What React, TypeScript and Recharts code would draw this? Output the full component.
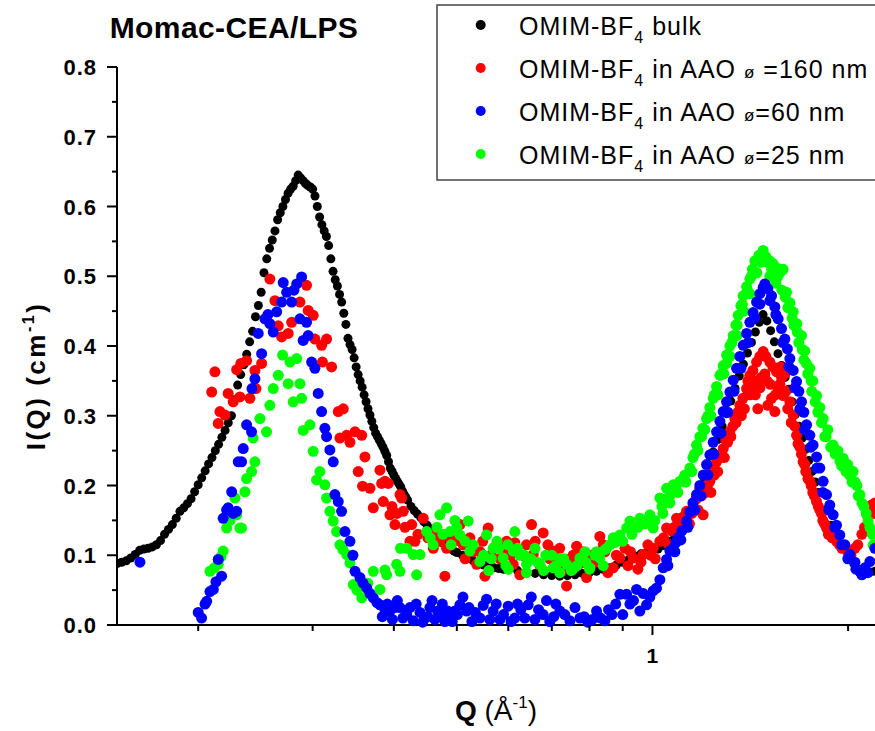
import { ScatterChart, Scatter, XAxis, YAxis } from "recharts";

// Q (1/Å) vs I(Q) (1/cm)
const BULK: [number, number][] = [
  [0.15, 0.088], [0.1525, 0.09], [0.155, 0.092], [0.1575, 0.096], [0.16, 0.101], [0.1625, 0.107],
  [0.165, 0.109], [0.1675, 0.11], [0.17, 0.112], [0.1725, 0.115], [0.175, 0.121], [0.1775, 0.13],
  [0.18, 0.137], [0.1825, 0.144], [0.185, 0.153], [0.1875, 0.163], [0.19, 0.168], [0.1925, 0.174],
  [0.195, 0.181], [0.1975, 0.191], [0.2, 0.201], [0.2025, 0.211], [0.205, 0.221], [0.2075, 0.231],
  [0.21, 0.24], [0.2125, 0.25], [0.215, 0.259], [0.2175, 0.269], [0.22, 0.279], [0.2225, 0.29],
  [0.225, 0.3], [0.2275, 0.323], [0.23, 0.344], [0.2325, 0.359], [0.235, 0.373], [0.2375, 0.388],
  [0.24, 0.406], [0.2425, 0.421], [0.245, 0.442], [0.2475, 0.458], [0.25, 0.477], [0.2525, 0.505],
  [0.255, 0.525], [0.2575, 0.54], [0.26, 0.552], [0.2625, 0.565], [0.265, 0.581], [0.2675, 0.591],
  [0.27, 0.6], [0.2725, 0.61], [0.275, 0.619], [0.2775, 0.625], [0.28, 0.629], [0.2825, 0.637],
  [0.285, 0.645], [0.2875, 0.641], [0.29, 0.637], [0.2925, 0.633], [0.295, 0.63], [0.2975, 0.628],
  [0.3, 0.625], [0.3025, 0.615], [0.305, 0.6], [0.3075, 0.585], [0.31, 0.574], [0.3125, 0.565],
  [0.315, 0.557], [0.3175, 0.544], [0.32, 0.525], [0.3225, 0.507], [0.325, 0.495], [0.3275, 0.486],
  [0.33, 0.474], [0.3325, 0.463], [0.335, 0.447], [0.3375, 0.431], [0.34, 0.411], [0.3425, 0.402],
  [0.345, 0.395], [0.3475, 0.383], [0.35, 0.37], [0.3525, 0.359], [0.355, 0.35], [0.3575, 0.341],
  [0.36, 0.33], [0.3625, 0.32], [0.365, 0.31], [0.3675, 0.301], [0.37, 0.292], [0.3725, 0.283],
  [0.375, 0.275], [0.3775, 0.27], [0.38, 0.265], [0.3825, 0.26], [0.385, 0.255], [0.3875, 0.249],
  [0.39, 0.243], [0.3925, 0.234], [0.395, 0.225], [0.3975, 0.22], [0.4, 0.215], [0.4025, 0.21],
  [0.405, 0.206], [0.4075, 0.202], [0.41, 0.198], [0.4125, 0.192], [0.415, 0.187], [0.4175, 0.183],
  [0.42, 0.179], [0.425, 0.17], [0.43, 0.164], [0.435, 0.159], [0.44, 0.154], [0.445, 0.148],
  [0.45, 0.143], [0.455, 0.138], [0.46, 0.133], [0.465, 0.127], [0.47, 0.121], [0.475, 0.118],
  [0.48, 0.115], [0.485, 0.112], [0.49, 0.109], [0.495, 0.106], [0.5, 0.104], [0.51, 0.1],
  [0.52, 0.096], [0.53, 0.092], [0.54, 0.088], [0.55, 0.086], [0.56, 0.084], [0.57, 0.082],
  [0.58, 0.081], [0.59, 0.08], [0.6, 0.079], [0.62, 0.078], [0.64, 0.076], [0.66, 0.074],
  [0.68, 0.072], [0.7, 0.071], [0.72, 0.07], [0.74, 0.071], [0.76, 0.072], [0.78, 0.074],
  [0.8, 0.075], [0.82, 0.077], [0.84, 0.08], [0.86, 0.082], [0.88, 0.086], [0.9, 0.09],
  [0.92, 0.094], [0.94, 0.099], [0.96, 0.102], [0.98, 0.104], [1.0, 0.106], [1.02, 0.109],
  [1.04, 0.114], [1.06, 0.12], [1.08, 0.13], [1.1, 0.14], [1.12, 0.15], [1.14, 0.163],
  [1.16, 0.178], [1.18, 0.195], [1.2, 0.212], [1.22, 0.23], [1.24, 0.248], [1.26, 0.266],
  [1.28, 0.285], [1.3, 0.303], [1.32, 0.321], [1.34, 0.339], [1.36, 0.357], [1.38, 0.374],
  [1.4, 0.39], [1.42, 0.405], [1.44, 0.42], [1.46, 0.434], [1.48, 0.445], [1.5, 0.436],
  [1.52, 0.422], [1.54, 0.406], [1.56, 0.389], [1.58, 0.372], [1.6, 0.355], [1.62, 0.338],
  [1.64, 0.32], [1.66, 0.302], [1.68, 0.285], [1.7, 0.268], [1.72, 0.252], [1.74, 0.236],
  [1.76, 0.22], [1.78, 0.205], [1.8, 0.19], [1.84, 0.165], [1.88, 0.143], [1.92, 0.125],
  [1.96, 0.11], [2.0, 0.098], [2.04, 0.088], [2.08, 0.08], [2.12, 0.077], [2.16, 0.076],
  [2.2, 0.077],
];

const AAO_160: [number, number][] = [
  [0.2098, 0.334], [0.2122, 0.363], [0.2147, 0.289], [0.216, 0.306], [0.2199, 0.301], [0.2224, 0.332],
  [0.2264, 0.32], [0.2292, 0.366], [0.2318, 0.327], [0.2326, 0.375], [0.2374, 0.379], [0.2402, 0.325],
  [0.2445, 0.365], [0.2454, 0.339], [0.2504, 0.375], [0.2578, 0.496], [0.2625, 0.465], [0.2656, 0.429],
  [0.2688, 0.413], [0.2751, 0.418], [0.2785, 0.434], [0.2868, 0.463], [0.2936, 0.487], [0.2953, 0.451],
  [0.3006, 0.444], [0.3024, 0.41], [0.3097, 0.401], [0.3106, 0.377], [0.3152, 0.41], [0.3208, 0.37],
  [0.3285, 0.306], [0.3304, 0.268], [0.3344, 0.31], [0.3384, 0.272], [0.3424, 0.262], [0.3486, 0.277],
  [0.3526, 0.22], [0.357, 0.272], [0.358, 0.199], [0.3611, 0.241], [0.3676, 0.196], [0.3719, 0.168],
  [0.3808, 0.222], [0.3831, 0.203], [0.3853, 0.177], [0.3876, 0.206], [0.3922, 0.203], [0.3945, 0.158],
  [0.3973, 0.17], [0.4016, 0.144], [0.4045, 0.16], [0.4088, 0.187], [0.4112, 0.182], [0.4136, 0.163],
  [0.4161, 0.14], [0.4235, 0.12], [0.4261, 0.144], [0.4311, 0.12], [0.4357, 0.13], [0.4439, 0.153],
  [0.4512, 0.125], [0.4624, 0.13], [0.4709, 0.12], [0.4793, 0.07], [0.4822, 0.11], [0.4879, 0.125],
  [0.5055, 0.144], [0.5115, 0.115], [0.5237, 0.125], [0.5363, 0.087], [0.5426, 0.105], [0.5523, 0.07],
  [0.5587, 0.139], [0.5721, 0.112], [0.5824, 0.095], [0.5963, 0.12], [0.6105, 0.087], [0.6141, 0.118],
  [0.6251, 0.072], [0.6363, 0.098], [0.6516, 0.144], [0.6554, 0.101], [0.6712, 0.085], [0.679, 0.132],
  [0.6904, 0.115], [0.7035, 0.106], [0.7077, 0.092], [0.7248, 0.077], [0.7377, 0.056], [0.7464, 0.095],
  [0.7643, 0.113], [0.7733, 0.088], [0.7918, 0.068], [0.8069, 0.1], [0.83, 0.127], [0.8448, 0.105],
  [0.8539, 0.075], [0.87, 0.082], [0.8909, 0.096], [0.9073, 0.11], [0.917, 0.085], [0.9339, 0.096],
  [0.9496, 0.08], [0.9676, 0.101], [0.9838, 0.115], [1.0025, 0.11], [1.0266, 0.12], [1.0512, 0.139],
  [1.0711, 0.135], [1.089, 0.153], [1.1057, 0.145], [1.1284, 0.163], [1.1498, 0.16], [1.1662, 0.18],
  [1.1828, 0.196], [1.1968, 0.158], [1.2083, 0.19], [1.2256, 0.206], [1.2388, 0.22], [1.255, 0.234],
  [1.2699, 0.24], [1.2849, 0.253], [1.297, 0.265], [1.3156, 0.277], [1.3298, 0.285], [1.3392, 0.296],
  [1.3535, 0.305], [1.3631, 0.315], [1.3777, 0.325], [1.3958, 0.339], [1.4023, 0.35], [1.412, 0.358],
  [1.4125, 0.33], [1.4272, 0.365], [1.4373, 0.35], [1.4461, 0.377], [1.4527, 0.31], [1.4631, 0.385],
  [1.4636, 0.34], [1.4803, 0.392], [1.4892, 0.36], [1.4945, 0.385], [1.5051, 0.315], [1.5157, 0.377],
  [1.5184, 0.345], [1.532, 0.37], [1.5428, 0.306], [1.5455, 0.33], [1.5521, 0.363], [1.5704, 0.345],
  [1.5732, 0.37], [1.5889, 0.329], [1.5985, 0.36], [1.6041, 0.335], [1.6271, 0.32], [1.6463, 0.301],
  [1.6661, 0.272], [1.6857, 0.255], [1.7053, 0.234], [1.7216, 0.22], [1.7466, 0.206], [1.765, 0.19],
  [1.7885, 0.177], [1.8093, 0.165], [1.8287, 0.15], [1.8528, 0.139], [1.8744, 0.13], [1.9196, 0.12],
  [1.9558, 0.11], [1.9981, 0.105], [2.0482, 0.11], [2.1, 0.13], [2.1455, 0.155], [2.1735, 0.172],
  [2.1991, 0.175],
  // second pass through the noisy band
  [0.46, 0.11], [0.495, 0.12], [0.515, 0.095], [0.53, 0.105], [0.548, 0.12], [0.565, 0.1],
  [0.59, 0.11], [0.605, 0.1], [0.64, 0.115], [0.66, 0.12], [0.695, 0.095], [0.72, 0.11],
  [0.755, 0.1], [0.78, 0.105], [0.815, 0.09], [0.84, 0.115], [0.88, 0.1], [0.925, 0.105],
  [0.96, 0.09], [0.995, 0.1], [1.01, 0.095], [1.04, 0.125], [1.06, 0.115], [1.08, 0.14],
  [1.1, 0.13], [1.115, 0.155], [1.14, 0.145], [1.155, 0.17], [1.175, 0.165], [1.19, 0.185],
  [1.215, 0.2], [1.23, 0.19], [1.245, 0.215], [1.26, 0.22], [1.275, 0.245], [1.29, 0.24],
  [1.305, 0.262], [1.32, 0.27], [1.345, 0.29], [1.37, 0.3], [1.385, 0.31], [1.42, 0.34],
  [1.44, 0.33], [1.47, 0.355], [1.5, 0.35], [1.525, 0.325], [1.56, 0.34], [1.58, 0.355],
  [1.615, 0.31], [1.635, 0.29], [1.655, 0.285], [1.675, 0.26], [1.695, 0.245], [1.715, 0.23],
  [1.735, 0.21], [1.755, 0.2], [1.775, 0.185], [1.8, 0.17], [1.82, 0.16], [1.84, 0.145],
  [1.865, 0.13], [1.89, 0.125], [1.94, 0.115], [1.975, 0.11], [2.02, 0.1], [2.07, 0.115],
  [2.12, 0.14], [2.16, 0.165], [2.19, 0.16],
];

const AAO_25: [number, number][] = [
  [0.2085, 0.077], [0.2118, 0.082], [0.2147, 0.087], [0.2168, 0.098], [0.2185, 0.106], [0.2212, 0.139],
  [0.2239, 0.15], [0.2278, 0.182], [0.2292, 0.158], [0.2318, 0.139], [0.2332, 0.139], [0.236, 0.191],
  [0.2374, 0.21], [0.2416, 0.22], [0.243, 0.268], [0.2445, 0.234], [0.2489, 0.296], [0.2548, 0.277],
  [0.2578, 0.315], [0.2609, 0.339], [0.2656, 0.358], [0.2697, 0.387], [0.2751, 0.346], [0.2768, 0.377],
  [0.28, 0.32], [0.2835, 0.382], [0.2868, 0.346], [0.2885, 0.325], [0.2901, 0.279], [0.2971, 0.287],
  [0.3006, 0.249], [0.3042, 0.208], [0.3078, 0.22], [0.3133, 0.201], [0.3152, 0.182], [0.3189, 0.163],
  [0.3227, 0.149], [0.3266, 0.134], [0.3304, 0.115], [0.334, 0.108], [0.3384, 0.101], [0.3424, 0.089],
  [0.3464, 0.058], [0.351, 0.05], [0.357, 0.039], [0.3647, 0.06], [0.3719, 0.077], [0.3808, 0.051],
  [0.3876, 0.079], [0.3899, 0.072], [0.404, 0.087], [0.4088, 0.077], [0.4095, 0.11], [0.4186, 0.11],
  [0.4285, 0.101], [0.4337, 0.072], [0.4388, 0.101], [0.4493, 0.134], [0.4598, 0.115], [0.4709, 0.158],
  [0.4822, 0.168], [0.4879, 0.134], [0.4966, 0.15], [0.5055, 0.129], [0.5206, 0.149], [0.5237, 0.106],
  [0.5426, 0.091], [0.5556, 0.129], [0.5687, 0.11], [0.5765, 0.12], [0.5892, 0.096], [0.5989, 0.115],
  [0.6105, 0.106], [0.6141, 0.134], [0.6251, 0.1], [0.6401, 0.087], [0.6594, 0.11], [0.6712, 0.087],
  [0.6852, 0.1], [0.7035, 0.082], [0.7204, 0.095], [0.7377, 0.087], [0.7543, 0.08], [0.7733, 0.096],
  [0.7874, 0.105], [0.8012, 0.082], [0.8156, 0.1], [0.83, 0.096], [0.8448, 0.108], [0.8599, 0.115],
  [0.8753, 0.118], [0.8909, 0.129], [0.9125, 0.139], [0.9232, 0.149], [0.9399, 0.14], [0.9563, 0.153],
  [0.9734, 0.145], [0.9908, 0.158], [1.0025, 0.139], [1.0085, 0.15], [1.0266, 0.182], [1.0339, 0.17],
  [1.0376, 0.16], [1.0512, 0.196], [1.0636, 0.185], [1.0636, 0.175], [1.0761, 0.201], [1.0863, 0.195],
  [1.094, 0.19], [1.102, 0.206], [1.1217, 0.215], [1.1256, 0.205], [1.1417, 0.225], [1.1498, 0.22],
  [1.154, 0.24], [1.1689, 0.258], [1.1745, 0.25], [1.1828, 0.27], [1.1955, 0.282], [1.204, 0.28],
  [1.2113, 0.296], [1.2256, 0.312], [1.23, 0.3], [1.2401, 0.325], [1.255, 0.342], [1.2605, 0.33],
  [1.2699, 0.358], [1.2849, 0.372], [1.288, 0.36], [1.3002, 0.387], [1.3156, 0.4], [1.3156, 0.385],
  [1.3312, 0.415], [1.3438, 0.43], [1.3486, 0.415], [1.3547, 0.444], [1.368, 0.458], [1.379, 0.472],
  [1.3823, 0.45], [1.3958, 0.485], [1.412, 0.496], [1.412, 0.475], [1.4247, 0.51], [1.4373, 0.522],
  [1.4476, 0.505], [1.4578, 0.53], [1.4803, 0.537], [1.4945, 0.528], [1.5051, 0.52], [1.5157, 0.522],
  [1.5157, 0.5], [1.5336, 0.518], [1.5483, 0.49], [1.5538, 0.512], [1.5704, 0.505], [1.5815, 0.48],
  [1.5889, 0.51], [1.6081, 0.477], [1.6157, 0.455], [1.6271, 0.462], [1.6463, 0.449], [1.6503, 0.43],
  [1.668, 0.432], [1.6799, 0.405], [1.6959, 0.415], [1.7098, 0.38], [1.7155, 0.393], [1.7338, 0.36],
  [1.7466, 0.368], [1.7585, 0.335], [1.765, 0.35], [1.7885, 0.329], [1.7967, 0.305], [1.8093, 0.312],
  [1.8307, 0.296], [1.8417, 0.27], [1.8614, 0.28], [1.8804, 0.255], [1.8967, 0.258], [1.9286, 0.25],
  [1.9423, 0.235], [1.9653, 0.239], [1.985, 0.22], [1.9981, 0.23], [2.028, 0.205], [2.0363, 0.22],
  [2.0634, 0.2], [2.0731, 0.185], [2.0851, 0.187], [2.1149, 0.17], [2.1323, 0.16], [2.1471, 0.149],
  [2.1782, 0.13], [2.1855, 0.115],
  // second pass through the noisy band
  [0.455, 0.125], [0.466, 0.14], [0.476, 0.13], [0.49, 0.115], [0.5, 0.14], [0.515, 0.12],
  [0.53, 0.115], [0.55, 0.1], [0.565, 0.095], [0.58, 0.11], [0.595, 0.085], [0.62, 0.11],
  [0.635, 0.1], [0.65, 0.095], [0.665, 0.09], [0.7, 0.1], [0.71, 0.085], [0.73, 0.095],
  [0.765, 0.085], [0.79, 0.09], [0.82, 0.105], [0.85, 0.11], [0.87, 0.125], [0.9, 0.12],
  [0.93, 0.13], [0.95, 0.14], [0.98, 0.15], [1.045, 0.18], [1.07, 0.19], [1.115, 0.21],
  [1.16, 0.245], [1.19, 0.27], [1.218, 0.3], [1.245, 0.33], [1.275, 0.36], [1.3, 0.375],
  [1.325, 0.405], [1.35, 0.43], [1.375, 0.46], [1.4, 0.48], [1.42, 0.5], [1.47, 0.52],
  [1.525, 0.51], [1.56, 0.5], [1.6, 0.47], [1.64, 0.44], [1.67, 0.42], [1.7, 0.395],
  [1.725, 0.375], [1.755, 0.35], [1.78, 0.32], [1.82, 0.29], [1.85, 0.27], [1.91, 0.245],
  [1.955, 0.228], [2.01, 0.215], [2.05, 0.205], [2.1, 0.175], [2.16, 0.14],
  [0.56, 0.078], [0.6, 0.08], [0.64, 0.075], [0.68, 0.078], [0.72, 0.075], [0.75, 0.078],
  [0.8, 0.08], [0.84, 0.085],
];

const AAO_60: [number, number][] = [
  [0.1627, 0.09], [0.2, 0.018], [0.2024, 0.01], [0.2049, 0.03], [0.2061, 0.034], [0.2085, 0.048],
  [0.211, 0.051], [0.213, 0.062], [0.2147, 0.094], [0.2173, 0.07], [0.2185, 0.153], [0.2212, 0.165],
  [0.2224, 0.168], [0.2252, 0.191], [0.2264, 0.16], [0.2292, 0.163], [0.2305, 0.234], [0.2332, 0.234],
  [0.2346, 0.253], [0.2374, 0.287], [0.2416, 0.277], [0.242, 0.339], [0.2445, 0.353], [0.2474, 0.418],
  [0.2504, 0.389], [0.2533, 0.439], [0.256, 0.445], [0.2578, 0.432], [0.2609, 0.42], [0.2641, 0.449],
  [0.2688, 0.463], [0.2703, 0.491], [0.2736, 0.477], [0.2785, 0.463], [0.2808, 0.48], [0.2835, 0.489],
  [0.2868, 0.439], [0.2885, 0.499], [0.2901, 0.408], [0.2936, 0.434], [0.2953, 0.415], [0.2989, 0.377],
  [0.3024, 0.368], [0.306, 0.332], [0.3097, 0.306], [0.3133, 0.282], [0.3152, 0.27], [0.3189, 0.251],
  [0.3227, 0.234], [0.3246, 0.187], [0.3285, 0.177], [0.3324, 0.163], [0.3364, 0.134], [0.3424, 0.12],
  [0.346, 0.1], [0.3486, 0.077], [0.3548, 0.068], [0.3586, 0.06], [0.3634, 0.053], [0.3676, 0.045],
  [0.3719, 0.039], [0.3768, 0.032], [0.3808, 0.029], [0.3876, 0.022], [0.3945, 0.02], [0.4016, 0.025],
  [0.4088, 0.025], [0.4186, 0.015], [0.4235, 0.025], [0.4285, 0.006], [0.4388, 0.018], [0.4469, 0.01],
  [0.4545, 0.025], [0.4626, 0.008], [0.4709, 0.015], [0.4793, 0.005], [0.4879, 0.012], [0.4966, 0.02],
  [0.5055, 0.029], [0.5176, 0.02], [0.5275, 0.005], [0.5426, 0.01], [0.5556, 0.037], [0.5687, 0.02],
  [0.5824, 0.008], [0.5998, 0.027], [0.6141, 0.01], [0.6273, 0.022], [0.6438, 0.029], [0.6594, 0.008],
  [0.679, 0.015], [0.695, 0.005], [0.7204, 0.02], [0.7464, 0.006], [0.7733, 0.01], [0.7952, 0.004],
  [0.8203, 0.02], [0.8448, 0.006], [0.8663, 0.015], [0.8909, 0.044], [0.9125, 0.044], [0.9232, 0.03],
  [0.9452, 0.051], [0.9563, 0.02], [0.9793, 0.029], [0.9908, 0.04], [1.0025, 0.049], [1.0146, 0.053],
  [1.0266, 0.065], [1.0387, 0.082], [1.0512, 0.094], [1.0561, 0.085], [1.0636, 0.106], [1.0761, 0.11],
  [1.0826, 0.105], [1.0863, 0.118], [1.0952, 0.125], [1.1057, 0.122], [1.1096, 0.135], [1.1284, 0.149],
  [1.1334, 0.14], [1.1417, 0.162], [1.154, 0.175], [1.1621, 0.165], [1.1689, 0.187], [1.1828, 0.2],
  [1.187, 0.185], [1.1968, 0.215], [1.2113, 0.23], [1.217, 0.215], [1.2256, 0.244], [1.2401, 0.262],
  [1.2431, 0.245], [1.255, 0.277], [1.2699, 0.292], [1.2745, 0.275], [1.2849, 0.306], [1.3002, 0.32],
  [1.3063, 0.305], [1.3156, 0.334], [1.3312, 0.351], [1.335, 0.335], [1.3472, 0.368], [1.3631, 0.385],
  [1.368, 0.368], [1.379, 0.401], [1.3958, 0.418], [1.4043, 0.405], [1.412, 0.434], [1.4285, 0.448],
  [1.4373, 0.44], [1.4461, 0.463], [1.4631, 0.475], [1.4631, 0.46], [1.4803, 0.484], [1.4892, 0.489],
  [1.5051, 0.482], [1.5157, 0.465], [1.5248, 0.472], [1.5428, 0.456], [1.5483, 0.445], [1.5611, 0.439],
  [1.5797, 0.425], [1.5872, 0.405], [1.5985, 0.41], [1.6128, 0.396], [1.6217, 0.37], [1.6271, 0.382],
  [1.6463, 0.365], [1.6562, 0.34], [1.6661, 0.349], [1.6799, 0.335], [1.6857, 0.31], [1.6959, 0.32],
  [1.7098, 0.305], [1.7155, 0.28], [1.7262, 0.287], [1.7466, 0.272], [1.7527, 0.255], [1.7668, 0.258],
  [1.7885, 0.241], [1.7906, 0.225], [1.8093, 0.225], [1.8287, 0.19], [1.8307, 0.206], [1.8528, 0.187],
  [1.868, 0.165], [1.8744, 0.172], [1.8967, 0.158], [1.9081, 0.14], [1.9196, 0.143], [1.9423, 0.129],
  [1.9558, 0.115], [1.9773, 0.115], [1.9981, 0.095], [2.0125, 0.101], [2.0487, 0.09], [2.056, 0.08],
  [2.0851, 0.077], [2.1, 0.072], [2.1224, 0.082], [2.1455, 0.075], [2.1605, 0.091], [2.1991, 0.11],
  // second pass along the floor
  [0.384, 0.012], [0.391, 0.03], [0.398, 0.008], [0.405, 0.035], [0.413, 0.01], [0.433, 0.03],
  [0.443, 0.004], [0.451, 0.012], [0.458, 0.035], [0.467, 0.02], [0.475, 0.03], [0.484, 0.02],
  [0.492, 0.005], [0.501, 0.015], [0.511, 0.04], [0.522, 0.025], [0.534, 0.018], [0.549, 0.028],
  [0.562, 0.008], [0.575, 0.03], [0.59, 0.015], [0.606, 0.005], [0.62, 0.03], [0.636, 0.01],
  [0.651, 0.04], [0.668, 0.022], [0.687, 0.035], [0.705, 0.012], [0.71, 0.03], [0.733, 0.015],
  [0.76, 0.025], [0.785, 0.012], [0.808, 0.008], [0.832, 0.01], [0.856, 0.022], [0.878, 0.03],
  [0.9, 0.015], [0.935, 0.035], [0.968, 0.045],
];

const SERIES = [
  { name: "bulk", color: "#000000", r: 4.5, points: BULK },
  { name: "160", color: "#ff0000", r: 5.5, points: AAO_160 },
  { name: "25", color: "#00ff00", r: 5.5, points: AAO_25 },
  { name: "60", color: "#0000ff", r: 5.5, points: AAO_60 },
];

const X_TICKS = [0.2, 0.3, 0.4, 0.5, 0.6, 0.7, 0.8, 0.9, 1, 2];
const Y_TICKS = [0, 0.05, 0.1, 0.15, 0.2, 0.25, 0.3, 0.35, 0.4, 0.45, 0.5, 0.55, 0.6, 0.65, 0.7, 0.75, 0.8];

const FONT = "'Liberation Sans', Arial, sans-serif";

const XTick = ({ x, y, payload }: any) => {
  const major = payload.value === 1;
  return (
    <g>
      <line x1={x} x2={x} y1={y} y2={y + (major ? 10 : 6)} stroke="#000" strokeWidth={2} />
      {major && (
        <text x={x} y={y + 38} textAnchor="middle" fontSize={21} fontWeight="bold" fontFamily={FONT} fill="#000">
          1
        </text>
      )}
    </g>
  );
};

const YTick = ({ x, y, payload }: any) => {
  const v = payload.value;
  const major = Math.abs(v * 10 - Math.round(v * 10)) < 1e-6;
  return (
    <g>
      <line x1={x - (major ? 10 : 5)} x2={x} y1={y} y2={y} stroke="#000" strokeWidth={2} />
      {major && (
        <text
          x={x - 20}
          y={y + 8}
          textAnchor="end"
          fontSize={22}
          fontWeight="bold"
          fontFamily={FONT}
          letterSpacing={1}
          fill="#000"
        >
          {v.toFixed(1)}
        </text>
      )}
    </g>
  );
};

const LEGEND = [
  { color: "#000000", label: " bulk", phi: "" },
  { color: "#ff0000", label: " in AAO ", phi: " =160 nm" },
  { color: "#0000ff", label: " in AAO ", phi: "=60 nm" },
  { color: "#00ff00", label: " in AAO ", phi: "=25 nm" },
];

const App = () => {
  return (
    <div style={{ position: "absolute", left: 0, top: 0, width: 875, height: 731, overflow: "hidden", background: "#fff" }}>
      <ScatterChart width={875} height={731} margin={{ top: 67, right: 0, bottom: 0, left: 0 }}>
        <XAxis
          type="number"
          dataKey="q"
          scale="log"
          domain={[0.15, 2.2]}
          allowDataOverflow
          ticks={X_TICKS}
          interval={0}
          height={106}
          tickSize={0}
          tickMargin={0}
          tickLine={false}
          tick={XTick}
          axisLine={{ stroke: "#000", strokeWidth: 2 }}
        />
        <YAxis
          type="number"
          dataKey="i"
          domain={[0, 0.8]}
          ticks={Y_TICKS}
          interval={0}
          width={117}
          tickSize={0}
          tickMargin={0}
          tickLine={false}
          tick={YTick}
          axisLine={{ stroke: "#000", strokeWidth: 2 }}
        />
        {SERIES.map((s) => (
          <Scatter
            key={s.name}
            name={s.name}
            data={s.points.map(([q, i]) => ({ q, i }))}
            fill={s.color}
            isAnimationActive={false}
            shape={(p: any) => <circle cx={p.cx} cy={p.cy} r={s.r} fill={s.color} />}
          />
        ))}
      </ScatterChart>

      <svg width={875} height={731} style={{ position: "absolute", left: 0, top: 0, pointerEvents: "none" }} fontFamily={FONT}>
        <text x={234} y={38} textAnchor="middle" fontSize={30} fontWeight="bold" letterSpacing={0.4} fill="#000">
          Momac-CEA/LPS
        </text>

        <text transform="translate(45,376) rotate(-90)" textAnchor="middle" fontSize={26} fontWeight="bold" letterSpacing={2.5} fill="#000">
          I(Q) (cm<tspan fontSize={16} dy={-11}>-1</tspan>
          <tspan dy={11}>)</tspan>
        </text>

        <text x={496} y={720} textAnchor="middle" fontSize={28} fill="#000">
          <tspan fontWeight="bold">Q</tspan> (Å<tspan fontSize={17} dy={-12}>-1</tspan>
          <tspan dy={12}>)</tspan>
        </text>

        <rect x={437} y={5} width={460} height={175} fill="#fff" stroke="#444" strokeWidth={1.5} />
        {LEGEND.map((row, k) => {
          const cy = 25 + k * 43;
          return (
            <g key={k}>
              <circle cx={480.7} cy={cy} r={5} fill={row.color} />
              <text x={519} y={cy + 10} fontSize={25} letterSpacing={1} fill="#000">
                OMIM-BF<tspan fontSize={16} dy={8}>4</tspan>
                <tspan dy={-8}>{row.label}</tspan>
                {row.phi && <tspan fontSize={17}>ø</tspan>}
                {row.phi && <tspan>{row.phi}</tspan>}
              </text>
            </g>
          );
        })}
      </svg>
    </div>
  );
};

export default App;
